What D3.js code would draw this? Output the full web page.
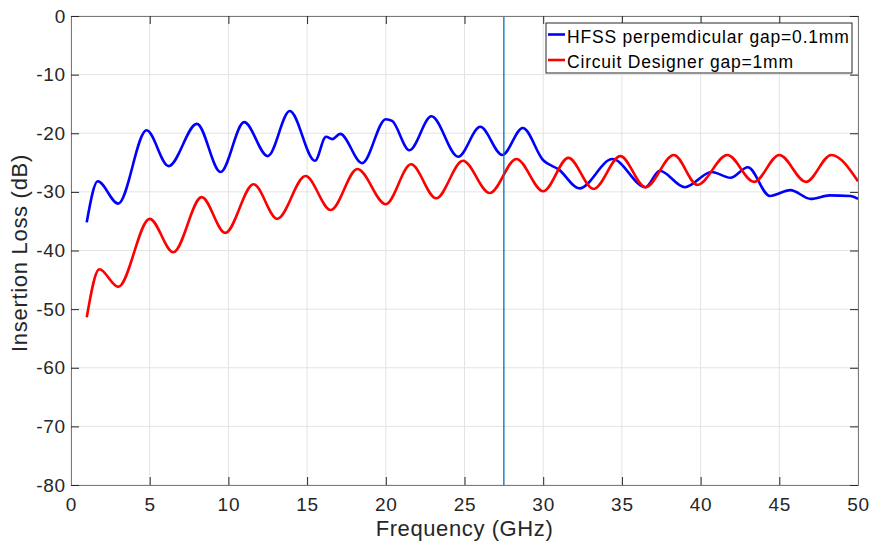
<!DOCTYPE html>
<html>
<head>
<meta charset="utf-8">
<script src="https://cdn.jsdelivr.net/npm/d3@7"></script>
<style>
body{margin:0;background:#fff;}
text{font-family:"Liberation Sans",Arial,sans-serif;fill:#262626;}
</style>
</head>
<body>
<div id="chart"></div>
<script>
// frequency (GHz) / insertion loss (dB)
var hfssFreq = [1,1.7,3.0,4.8,6.2,8.0,9.5,11.0,12.5,13.9,15.5,16.2,16.6,17.1,18.5,20.0,20.4,21.5,22.9,24.6,26.0,27.4,28.7,30.0,31.0,32.3,34.4,36.5,37.4,39.0,40.7,41.9,43.0,44.4,45.7,47.0,48.2,49.5,50];
var hfssLoss = [-35.2,-28.2,-32.0,-19.5,-25.6,-18.4,-26.6,-18.1,-23.9,-16.2,-24.7,-20.6,-21.0,-20.1,-25.1,-17.6,-17.9,-22.9,-17.1,-24.0,-18.9,-23.7,-19.1,-24.6,-26.2,-29.4,-24.4,-29.2,-26.4,-29.2,-26.6,-27.6,-25.8,-30.7,-29.7,-31.2,-30.6,-30.7,-31.2];
var cdFreq = [1,1.8,3.0,5.0,6.5,8.3,9.8,11.6,13.1,14.9,16.5,18.2,20.0,21.6,23.2,24.9,26.6,28.3,30.0,31.6,33.2,34.9,36.5,38.3,39.8,41.7,43.4,45.0,46.7,48.3,50];
var cdLoss = [-51.4,-43.2,-46.2,-34.6,-40.3,-30.9,-37.0,-28.7,-34.6,-27.3,-33.1,-26.1,-32.1,-25.3,-31.1,-24.7,-30.2,-24.4,-29.9,-24.2,-29.5,-23.9,-29.2,-23.7,-28.8,-23.7,-28.3,-23.7,-28.3,-23.7,-28.2];
var markerFreq = 27.5;
var xTicks = [0,5,10,15,20,25,30,35,40,45,50];
var yTicks = [0,-10,-20,-30,-40,-50,-60,-70,-80];
var legendNames = ["HFSS perpemdicular gap=0.1mm","Circuit Designer gap=1mm"];

var w = 872, h = 550;
var margins = {top:16, bottom:65, left:71, right:14};

var x = d3.scaleLinear().domain([0,50]).range([margins.left, w - margins.right]);
var y = d3.scaleLinear().domain([-80,0]).range([h - margins.bottom, margins.top]);

var svg = d3.select("#chart").append("svg")
  .attr("width", w)
  .attr("height", h);

// grid
svg.append("g").selectAll("line").data(xTicks).enter().append("line")
  .attr("x1", d => x(d)).attr("x2", d => x(d))
  .attr("y1", y(0)).attr("y2", y(-80))
  .attr("stroke", "#e3e3e3").attr("stroke-width", 1);
svg.append("g").selectAll("line").data(yTicks).enter().append("line")
  .attr("x1", x(0)).attr("x2", x(50))
  .attr("y1", d => y(d)).attr("y2", d => y(d))
  .attr("stroke", "#e3e3e3").attr("stroke-width", 1);

// curves
var line = d3.line().curve(d3.curveMonotoneX)
  .x(d => x(d[0])).y(d => y(d[1]));

svg.append("path")
  .datum(hfssFreq.map((f,i) => [f, hfssLoss[i]]))
  .attr("d", line)
  .attr("fill", "none").attr("stroke", "#0000ff").attr("stroke-width", 2.6);

svg.append("path")
  .datum(cdFreq.map((f,i) => [f, cdLoss[i]]))
  .attr("d", line)
  .attr("fill", "none").attr("stroke", "#ff0000").attr("stroke-width", 2.6);

// vertical marker
svg.append("line")
  .attr("x1", x(markerFreq)).attr("x2", x(markerFreq))
  .attr("y1", y(0)).attr("y2", y(-80))
  .attr("stroke", "#0072bd").attr("stroke-width", 1.3);

// axes (ticks inside, box on all sides)
var fmt = function(d){ return String(d); };
var axBottom = svg.append("g").attr("transform", "translate(0," + y(-80) + ")")
  .call(d3.axisBottom(x).tickValues(xTicks).tickSizeInner(-8).tickSizeOuter(0).tickPadding(13).tickFormat(fmt));
var axTop = svg.append("g").attr("transform", "translate(0," + y(0) + ")")
  .call(d3.axisTop(x).tickValues(xTicks).tickSizeInner(-8).tickSizeOuter(0).tickFormat(""));
var axLeft = svg.append("g").attr("transform", "translate(" + x(0) + ",0)")
  .call(d3.axisLeft(y).tickValues(yTicks).tickSizeInner(-8).tickSizeOuter(0).tickPadding(5).tickFormat(fmt));
var axRight = svg.append("g").attr("transform", "translate(" + x(50) + ",0)")
  .call(d3.axisRight(y).tickValues(yTicks).tickSizeInner(-8).tickSizeOuter(0).tickFormat(""));

[axBottom, axTop, axLeft, axRight].forEach(function(g){
  g.selectAll("path").attr("stroke", "#7a7a7a");
  g.selectAll("line").attr("stroke", "#262626");
  g.selectAll("text").style("font-size", "19px").style("fill", "#262626")
    .style("letter-spacing", "0.8px")
    .style("font-family", "'Liberation Sans', Arial, sans-serif");
});

// axis labels
svg.append("text")
  .text("Frequency (GHz)")
  .attr("text-anchor", "middle")
  .attr("x", (x(0) + x(50)) / 2)
  .attr("y", 536)
  .style("font-size", "22px")
  .style("letter-spacing", "0.6px");

svg.append("text")
  .text("Insertion Loss (dB)")
  .attr("text-anchor", "middle")
  .attr("transform", "translate(27,253) rotate(-90)")
  .style("font-size", "22px")
  .style("letter-spacing", "0.7px");

// legend
var legend = svg.append("g").attr("transform", "translate(546,23)");
legend.append("rect")
  .attr("width", 306).attr("height", 50)
  .attr("fill", "#fff").attr("stroke", "#262626").attr("stroke-width", 1);
var legendColors = ["#0000ff", "#ff0000"];
legendNames.forEach(function(name, i){
  var ly = 11.5 + i * 25.5;
  legend.append("line")
    .attr("x1", 2).attr("x2", 19).attr("y1", ly).attr("y2", ly)
    .attr("stroke", legendColors[i]).attr("stroke-width", 2.6);
  legend.append("text")
    .text(name)
    .attr("x", 21).attr("y", ly + 8)
    .style("font-size", "17.5px")
    .style("letter-spacing", "0.8px")
    .style("fill", "#000");
});
</script>
</body>
</html>
